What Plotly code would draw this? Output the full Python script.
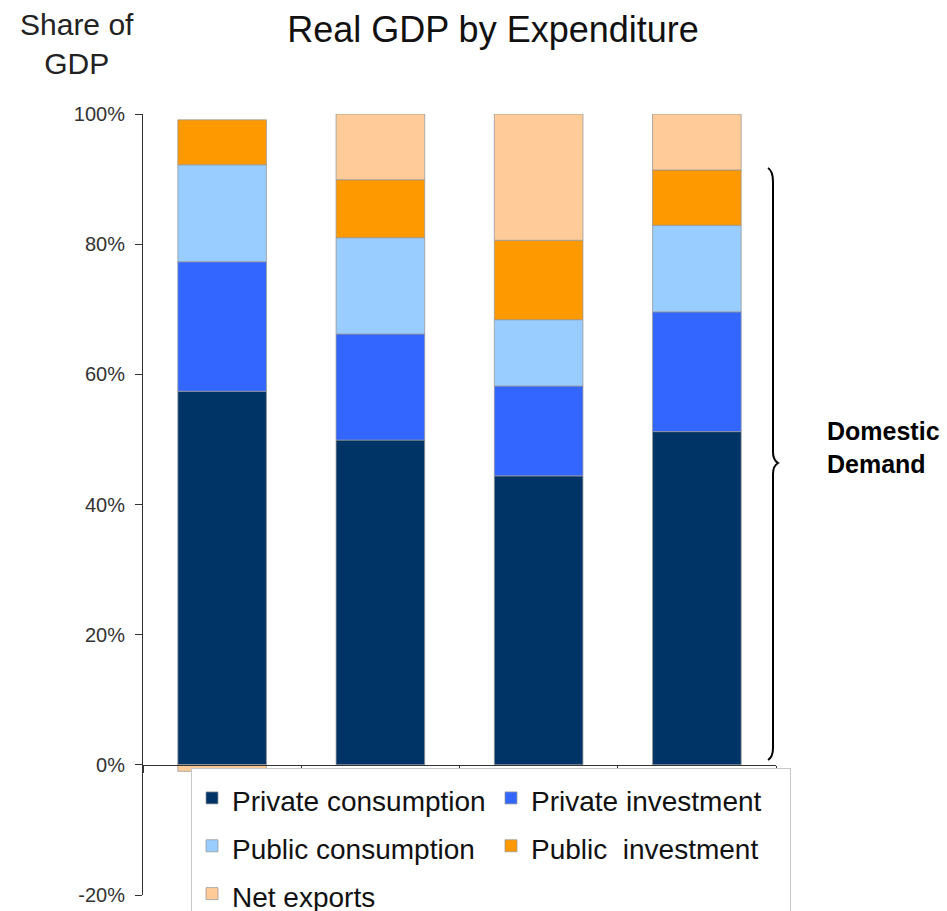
import plotly.graph_objects as go

# ---- data (shares of GDP, %) ----
periods = ["P1", "P2", "P3", "P4"]
private_consumption = [57.4, 49.9, 44.4, 51.2]
private_investment = [19.9, 16.3, 13.8, 18.4]
public_consumption = [14.9, 14.8, 10.2, 13.3]
public_investment = [6.9, 8.9, 12.2, 8.5]
net_exports = [-1.0, 10.1, 19.4, 8.6]

series_names = ["Private consumption", "Private investment", "Public consumption",
                "Public  investment", "Net exports"]
series_values = [private_consumption, private_investment, public_consumption,
                 public_investment, net_exports]
series_colors = ["#003366", "#3366FF", "#99CCFF", "#FF9900", "#FFCC99"]

y_tick_vals = [-20, 0, 20, 40, 60, 80, 100]
y_tick_text = ["-20%", "0%", "20%", "40%", "60%", "80%", "100%"]

FONT = "Liberation Sans, Arial, sans-serif"

# plot-area geometry (pixels) used for converting decorations to paper coords
W, H = 947, 911
L, R, T, B = 143, 171, 114, 16
PW, PH = W - L - R, H - T - B


def xp(px):
    return (px - L) / PW


def yp(py):
    return (H - B - py) / PH


fig = go.Figure()
for name, vals, col in zip(series_names, series_values, series_colors):
    fig.add_trace(go.Bar(
        x=periods, y=vals,
        name=f'<span style="font-size:28px">{name}</span>',
        marker=dict(color=col, line=dict(color="rgba(150,150,150,0.75)", width=1)),
    ))

fig.update_layout(
    width=W, height=H,
    margin=dict(l=L, r=R, t=T, b=B, autoexpand=False),
    paper_bgcolor="white", plot_bgcolor="white",
    barmode="relative", bargap=0.44,
    font=dict(family=FONT, color="#222"),
    title=dict(text="Real GDP by Expenditure", x=493 / W, xanchor="center",
               y=1 - 29 / H, yanchor="middle", yref="container",
               font=dict(size=36, color="#111", family=FONT)),
    showlegend=True,
    legend=dict(
        orientation="h", x=xp(191), y=yp(768), xanchor="left", yanchor="top",
        bgcolor="white", bordercolor="#C8C8C8", borderwidth=1,
        font=dict(size=34.5, color="#111", family=FONT),
        entrywidth=254, entrywidthmode="pixels", traceorder="normal",
    ),
    xaxis=dict(
        type="category", range=[-0.5, 3.5], anchor="free", position=20 / 120,
        showline=True, linecolor="#333", linewidth=1,
        ticks="outside", tickson="boundaries", ticklen=7, tickcolor="#333",
        showticklabels=False, showgrid=False, zeroline=False,
    ),
    yaxis=dict(
        range=[-20, 100], tickvals=y_tick_vals, ticktext=y_tick_text,
        showline=True, linecolor="#333", linewidth=1,
        ticks="outside", ticklen=7, tickcolor="#333",
        tickfont=dict(size=20, color="#333", family=FONT),
        ticklabelstandoff=6,
        showgrid=False, zeroline=False,
    ),
)

# y-axis caption
fig.add_annotation(text="Share of<br>GDP", xref="paper", yref="paper",
                   x=xp(77), y=yp(44), xanchor="center", yanchor="middle",
                   showarrow=False, align="center",
                   font=dict(size=30, color="#222", family=FONT))

# Domestic demand label
fig.add_annotation(text="<b>Domestic<br>Demand</b>", xref="paper", yref="paper",
                   x=xp(825), y=yp(447), xanchor="left", yanchor="middle",
                   showarrow=False, align="left",
                   font=dict(size=25, color="#000", family=FONT))

# curly brace
pts = [(768, 168), (773, 171), (773, 182), (773, 452), (773, 460), (778, 463),
       (773, 466), (773, 474), (773, 748), (773, 757), (768, 760)]
p = [(xp(a), yp(b)) for a, b in pts]
path = (f"M {p[0][0]},{p[0][1]} Q {p[1][0]},{p[1][1]} {p[2][0]},{p[2][1]} "
        f"L {p[3][0]},{p[3][1]} Q {p[4][0]},{p[4][1]} {p[5][0]},{p[5][1]} "
        f"Q {p[6][0]},{p[6][1]} {p[7][0]},{p[7][1]} "
        f"L {p[8][0]},{p[8][1]} Q {p[9][0]},{p[9][1]} {p[10][0]},{p[10][1]}")
fig.add_shape(type="path", path=path, xref="paper", yref="paper",
              line=dict(color="#000", width=2))

fig.write_html("out.html")
